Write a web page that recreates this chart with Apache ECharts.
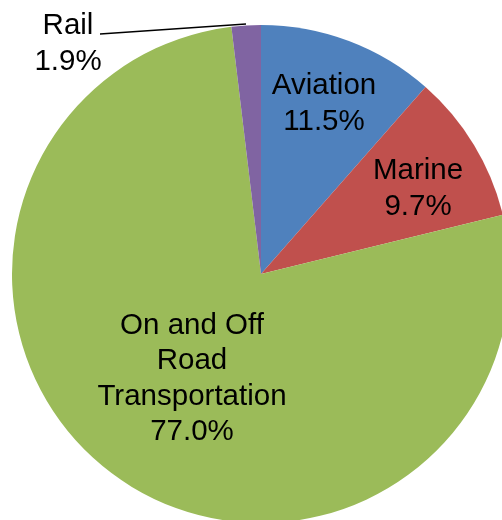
<!DOCTYPE html>
<html>
<head>
<meta charset="utf-8">
<script src="https://cdn.jsdelivr.net/npm/echarts@6/dist/echarts.min.js"></script>
<style>
  html, body { margin: 0; padding: 0; background: #fff; }
  #chart { width: 502px; height: 520px; }
</style>
</head>
<body>
<div id="chart"></div>
<script>
// Share of fuel use by transport mode (percent)
const categories = ['Aviation', 'Marine', 'On and Off\nRoad\nTransportation', 'Rail'];
const shares = [11.5, 9.7, 77.0, 1.9];
const colors = ['#4F81BD', '#C0504D', '#9BBB59', '#8064A2'];

// Where each slice's text block sits (centre of the block, in px)
const labelSpots = [
  { x: 324, y: 104 },
  { x: 418, y: 189 },
  { x: 192, y: 379 },
  { x: 68, y: 44 }
];

const chart = echarts.init(document.getElementById('chart'), null, { renderer: 'canvas' });

chart.setOption({
  animation: false,
  series: [{
    type: 'pie',
    center: [261, 274],
    radius: 249,
    startAngle: 90,
    clockwise: true,
    avoidLabelOverlap: false,
    silent: true,
    itemStyle: { borderWidth: 0 },
    data: categories.map((name, i) => ({
      name,
      value: shares[i],
      itemStyle: { color: colors[i] },
      label: { position: i === 3 ? 'outside' : 'inside' },
      labelLine: { show: i === 3 }
    })),
    label: {
      show: true,
      formatter: p => p.name + '\n' + p.value.toFixed(1) + '%',
      fontFamily: 'Liberation Sans, Arial, sans-serif',
      fontSize: 29.5,
      lineHeight: 35.5,
      color: '#000',
      align: 'center'
    },
    labelLine: {
      show: false,
      lineStyle: { color: '#000', width: 1.3 }
    },
    labelLayout: params => {
      const s = labelSpots[params.dataIndex];
      const out = {
        x: s.x,
        y: s.y,
        align: 'center',
        verticalAlign: 'middle'
      };
      if (params.dataIndex === 3) {
        out.labelLinePoints = [[246, 24], [246, 24], [100, 34]];
      }
      return out;
    }
  }]
});
</script>
</body>
</html>
